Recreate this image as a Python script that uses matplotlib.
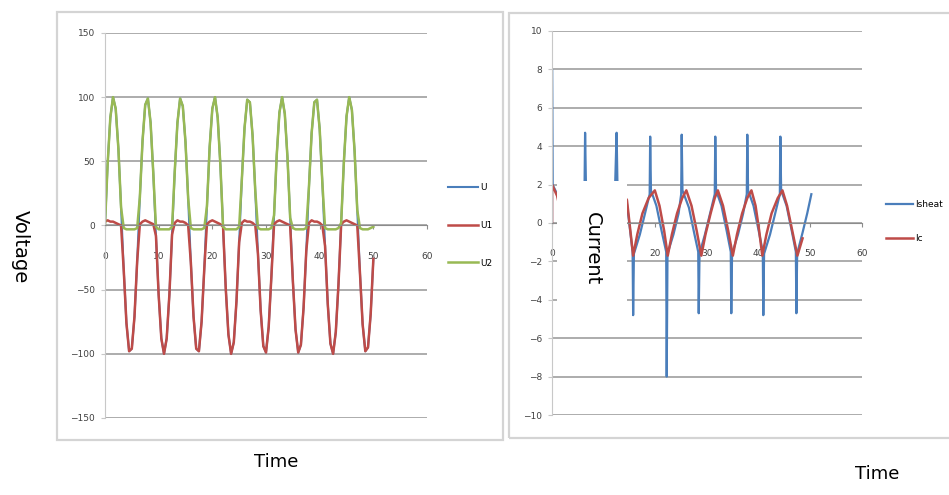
import numpy as np
import matplotlib.pyplot as plt
from matplotlib.patches import Rectangle

# left chart: voltages, one sample every 0.5 time units
time_v = np.arange(0, 50.5, 0.5)
u = [0, 48, 84, 100, 91, 60, 14, -35, -76, -98,
     -96, -71, -28, 22, 66, 94, 99, 80, 41, -8,
     -54, -88, -100, -88, -54, -7, 42, 80, 99, 93,
     65, 21, -29, -71, -96, -98, -75, -34, 15, 61,
     91, 100, 84, 47, -1, -49, -85, -100, -91, -59,
     -13, 36, 76, 98, 96, 70, 27, -22, -66, -94,
     -99, -79, -40, 8, 55, 88, 100, 87, 53, 6,
     -43, -81, -99, -93, -64, -20, 30, 72, 96, 98,
     75, 33, -16, -61, -92, -100, -83, -46, 2, 49,
     85, 100, 90, 58, 12, -37, -77, -98, -95, -69,
     -26]
u1 = [3, 4, 3, 3, 2, 1, 0, -35, -76, -98,
      -96, -71, -28, 1, 3, 4, 3, 2, 1, -8,
      -54, -88, -100, -88, -54, -7, 2, 4, 3, 3,
      2, 0, -29, -71, -96, -98, -75, -34, 1, 3,
      4, 3, 2, 1, -1, -49, -85, -100, -91, -59,
      -13, 2, 4, 3, 3, 2, 0, -22, -66, -94,
      -99, -79, -40, 1, 3, 4, 3, 2, 1, 0,
      -43, -81, -99, -93, -64, -20, 2, 4, 3, 3,
      2, 0, -16, -61, -92, -100, -83, -46, 1, 3,
      4, 3, 2, 1, 0, -37, -77, -98, -95, -69,
      -26]
u2 = [0, 48, 84, 100, 91, 60, 14, -2, -3, -3,
      -3, -3, -2, 22, 66, 94, 99, 80, 41, -1,
      -3, -3, -3, -3, -3, -1, 42, 80, 99, 93,
      65, 21, -2, -3, -3, -3, -3, -2, 15, 61,
      91, 100, 84, 47, -1, -3, -3, -3, -3, -3,
      -1, 36, 76, 98, 96, 70, 27, -2, -3, -3,
      -3, -3, -2, 8, 55, 88, 100, 87, 53, 6,
      -2, -3, -3, -3, -3, -2, 30, 72, 96, 98,
      75, 33, -2, -3, -3, -3, -3, -2, 2, 49,
      85, 100, 90, 58, 12, -2, -3, -3, -3, -2,
      -1]

# right chart: currents
time_ish = [0, 0, 0.1, 1, 2, 3, 3.2, 3.4, 4.5, 5.5,
            6.3, 6.4, 6.55, 7.5, 8.5, 9.5, 9.6, 9.8, 11, 12.2,
            12.5, 12.65, 13.5, 14.5, 15.6, 15.7, 15.85, 17, 18, 18.9,
            19.0, 19.15, 20.2, 21.2, 22.1, 22.2, 22.35, 23.5, 24.5, 25.0,
            25.1, 25.25, 26.5, 27.5, 28.3, 28.4, 28.55, 29.6, 30.6, 31.5,
            31.6, 31.75, 32.8, 33.8, 34.6, 34.7, 34.85, 36, 37, 37.7,
            37.8, 37.95, 39, 40, 40.8, 40.9, 41.05, 42.2, 43.2, 44.1,
            44.2, 44.35, 45.4, 46.4, 47.2, 47.3, 47.45, 48.5, 49.4, 50.2]
ish = [0, 8, 2, 1.5, 0.5, -1, -3, -1, 0, 1.2,
       2, 4.7, 2.2, 1.2, 0, -1.2, -3, -1, 0.5, 1.8,
       4.7, 2.2, 1.3, 1.0, -1.5, -4.8, -1.6, -0.6, 0.5, 1.5,
       4.5, 1.7, 0.9, -0.4, -1.5, -8.0, -1.6, -0.6, 0.5, 1.5,
       4.6, 1.7, 0.8, -0.5, -1.5, -4.7, -1.6, -0.6, 0.5, 1.5,
       4.5, 1.7, 0.9, -0.4, -1.5, -4.7, -1.6, -0.6, 0.5, 1.5,
       4.6, 1.7, 0.9, -0.4, -1.5, -4.8, -1.6, -0.6, 0.5, 1.5,
       4.5, 1.7, 0.9, -0.4, -1.5, -4.7, -1.6, -0.5, 0.5, 1.5]
time_ic = [0, 0, 1, 2.5, 3.3, 4.5, 5.5, 6.6, 7.5, 8.6,
           9.6, 10.5, 11.7, 12.9, 13.7, 14.5, 15.7, 16.5, 17.5, 18.7,
           19.9, 20.8, 21.7, 22.4, 23.2, 24.2, 25.2, 26.0, 27.0, 28.0,
           28.9, 29.7, 30.7, 31.5, 32.1, 33.1, 34.1, 35.0, 35.8, 36.8,
           37.8, 38.6, 39.4, 40.1, 40.7, 41.5, 42.5, 43.7, 44.6, 45.5,
           46.5, 47.5, 48.5]
ic = [0, 2, 1.4, -0.5, -1.6, -0.5, 0.6, 1.6, 0.8, -0.5,
      -1.6, -0.5, 0.7, 1.7, 1.5, 1.2, -1.7, -0.6, 0.5, 1.3,
      1.7, 0.9, -0.4, -1.7, -0.6, 0.5, 1.3, 1.7, 0.9, -0.4,
      -1.7, -0.6, 0.5, 1.3, 1.7, 0.9, -0.4, -1.7, -0.6, 0.5,
      1.3, 1.7, 0.9, -0.4, -1.7, -0.6, 0.5, 1.3, 1.7, 0.9,
      -0.4, -1.7, -0.8]

BLUE = '#4a7ebb'
RED = '#be4b48'
GREEN = '#98b954'
GRID = '#a6a6a6'


def style_axes(ax, yticks):
    ax.set_xlim(0, 60)
    ax.set_ylim(yticks[0], yticks[-1])
    ax.set_xticks(range(0, 61, 10))
    ax.set_yticks(yticks)
    ax.yaxis.grid(True, color=GRID, lw=1.3)
    ax.set_axisbelow(True)
    for s in ['top', 'right']:
        ax.spines[s].set_visible(False)
    ax.spines['bottom'].set_position(('data', 0))
    ax.spines['bottom'].set_color('#8c8c8c')
    ax.spines['left'].set_color('#c8c8c8')
    ax.tick_params(axis='x', length=3, pad=16, labelsize=6.5, colors='#8c8c8c', labelcolor='#404040')
    ax.tick_params(axis='y', length=3, pad=4, labelsize=6.5, colors='#c8c8c8', labelcolor='#404040')
    ax.set_facecolor('none')


fig = plt.figure(figsize=(9.49, 4.95), dpi=100)

# chart frames
fig.patches.append(Rectangle((0.060, 0.111), 0.470, 0.865, transform=fig.transFigure,
                             fill=False, edgecolor='#d4d4d4', lw=1.6))
fig.patches.append(Rectangle((0.536, 0.115), 0.480, 0.859, transform=fig.transFigure,
                             fill=False, edgecolor='#d4d4d4', lw=1.6))

ax1 = fig.add_axes([0.1106, 0.1556, 0.3394, 0.7778])
style_axes(ax1, [-150, -100, -50, 0, 50, 100, 150])
l_u, = ax1.plot(time_v, u, color=BLUE, lw=1.5, label='U')
l_u1, = ax1.plot(time_v, u1, color=RED, lw=1.8, label='U1')
l_u2, = ax1.plot(time_v, u2, color=GREEN, lw=1.8, label='U2')
fig.legend(handles=[l_u, l_u1, l_u2], loc='center left', bbox_to_anchor=(0.472, 0.545),
           frameon=False, fontsize=6.5, handlelength=3.3, handletextpad=0.3,
           labelspacing=3.2, borderpad=0, borderaxespad=0)

ax2 = fig.add_axes([0.5817, 0.1616, 0.3266, 0.7758])
style_axes(ax2, [-10, -8, -6, -4, -2, 0, 2, 4, 6, 8, 10])
# the "10" label sits under the Current text box in the original
ax2.set_xticklabels(['0', '', '20', '30', '40', '50', '60'])
l_ish, = ax2.plot(time_ish, ish, color=BLUE, lw=1.6, label='Isheat')
l_ic, = ax2.plot(time_ic, ic, color=RED, lw=1.8, label='Ic')
fig.legend(handles=[l_ish, l_ic], loc='center left', bbox_to_anchor=(0.934, 0.5525),
           frameon=False, fontsize=6.5, handlelength=3.0, handletextpad=0.2,
           labelspacing=2.7, borderpad=0, borderaxespad=0)

# white text box covering part of the plot
ax2.add_patch(Rectangle((1.0, -4.5), 13.5, 6.7, facecolor='white', edgecolor='none', zorder=5))
ax2.text(7.9, -1.35, 'Current', rotation=-90, ha='center', va='center', fontsize=14, zorder=6)

fig.text(20 / 949, 1 - 247 / 495, 'Voltage', rotation=-90, ha='center', va='center', fontsize=14)
fig.text(276 / 949, 1 - 462 / 495, 'Time', ha='center', va='center', fontsize=13)
fig.text(877 / 949, 1 - 474 / 495, 'Time', ha='center', va='center', fontsize=13)

fig.savefig('out.png', dpi=100)
